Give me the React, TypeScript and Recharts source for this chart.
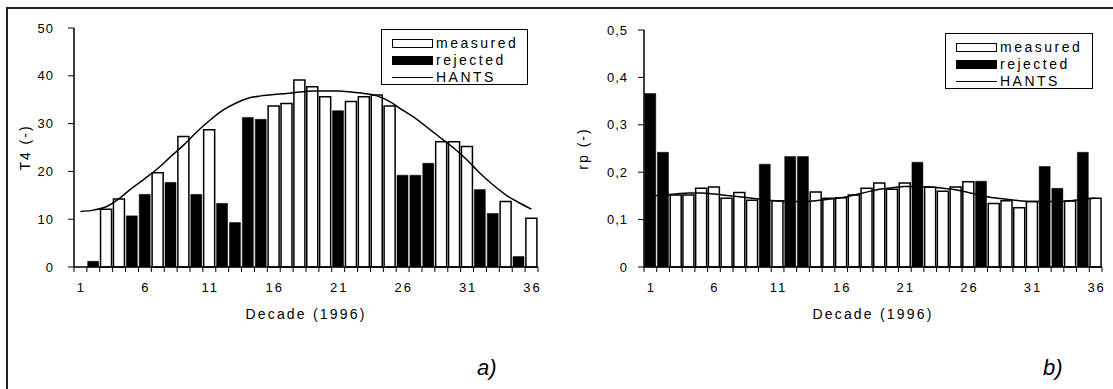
import React from 'react';
import { ComposedChart, Bar, Line, XAxis, YAxis, Legend, Label } from 'recharts';

const decades = Array.from({ length: 36 }, (_, i) => String(i + 1));

// panel a) T4
const t4Measured = [null, null, 12.1, 14.2, null, null, 19.7, null, 27.3, null, 28.7, null, null, null, null, 33.7, 34.2, 39.1, 37.7, 35.6, null, 34.6, 35.6, 36.0, 33.7, null, null, null, 26.2, 26.2, 25.2, null, null, 13.7, null, 10.2];
const t4Rejected = [null, 1.2, null, null, 10.7, 15.2, null, 17.7, null, 15.2, null, 13.3, 9.3, 31.3, 30.9, null, null, null, null, null, 32.7, null, null, null, null, 19.2, 19.2, 21.7, null, null, null, 16.2, 11.2, null, 2.2, null];
const t4Hants = [11.6, 11.9, 12.6, 14.3, 16.5, 18.5, 20.6, 23.1, 25.5, 28.2, 30.6, 32.7, 34.2, 35.3, 35.8, 36.1, 36.3, 36.6, 36.8, 36.8, 36.8, 36.6, 36.3, 35.8, 34.6, 32.8, 31.1, 29.0, 26.9, 24.8, 22.4, 19.6, 17.2, 15.1, 13.5, 12.1];
const t4Ticks = [0, 10, 20, 30, 40, 50];

// panel b) rp
const rpMeasured = [null, null, 0.152, 0.152, 0.166, 0.169, 0.145, 0.157, 0.141, null, 0.140, null, null, 0.158, 0.145, 0.146, 0.152, 0.166, 0.177, 0.164, 0.177, null, 0.168, 0.160, 0.169, 0.180, null, 0.134, 0.140, 0.125, 0.138, null, null, 0.139, null, 0.145];
const rpRejected = [0.366, 0.242, null, null, null, null, null, null, null, 0.217, null, 0.233, 0.233, null, null, null, null, null, null, null, null, 0.221, null, null, null, null, 0.181, null, null, null, null, 0.212, 0.166, null, 0.242, null];
const rpHants = [0.150, 0.152, 0.154, 0.156, 0.156, 0.154, 0.151, 0.148, 0.145, 0.142, 0.139, 0.138, 0.138, 0.140, 0.143, 0.146, 0.152, 0.158, 0.164, 0.167, 0.170, 0.170, 0.169, 0.166, 0.163, 0.157, 0.151, 0.146, 0.143, 0.140, 0.138, 0.138, 0.138, 0.140, 0.143, 0.145];
const rpTicks = [0, 0.1, 0.2, 0.3, 0.4, 0.5];

const legendItems = ['measured', 'rejected', 'HANTS'];

const FONT = '"Liberation Sans", Arial, sans-serif';
const H = 389;

const t4Data = decades.map((d, i) => ({ decade: d, measured: t4Measured[i], rejected: t4Rejected[i], hants: t4Hants[i] }));
const rpData = decades.map((d, i) => ({ decade: d, measured: rpMeasured[i], rejected: rpRejected[i], hants: rpHants[i] }));

const makeXTick = (band: number) => (props: any) => {
  const { x, y, payload, index } = props;
  return (
    <g>
      <line x1={x - band / 2} y1={y} x2={x - band / 2} y2={y + 5} stroke="#000" strokeWidth={1} />
      {index === decades.length - 1 && (
        <line x1={x + band / 2} y1={y} x2={x + band / 2} y2={y + 5} stroke="#000" strokeWidth={1} />
      )}
      {index % 5 === 0 && (
        <text x={x + 1} y={y + 25} textAnchor="middle" fontFamily={FONT} fontSize={13} letterSpacing={2} fill="#000">
          {payload.value}
        </text>
      )}
    </g>
  );
};

const LegendBox = ({ width }: { width: number }) => (
  <div style={{ width, height: 56, boxSizing: 'border-box', border: '1px solid #000', background: '#fff', padding: '5px 0 0 10px', fontFamily: FONT, fontSize: 14, letterSpacing: 2.5, lineHeight: '17px', color: '#000' }}>
    {legendItems.map((name) => (
      <div key={name} style={{ display: 'flex', alignItems: 'center', height: 17 }}>
        {name === 'HANTS' ? (
          <span style={{ width: 41, height: 0, borderTop: '1.5px solid #000', marginRight: 3 }} />
        ) : (
          <span style={{ width: 41, height: 9, boxSizing: 'border-box', border: '1.5px solid #000', background: name === 'rejected' ? '#000' : '#fff', marginRight: 3 }} />
        )}
        <span>{name}</span>
      </div>
    ))}
  </div>
);

type PanelProps = {
  data: any[];
  left: number;
  width: number;
  yWidth: number;
  marginTop: number;
  marginRight: number;
  domain: [number, number];
  ticks: number[];
  tickFmt: (v: number) => string;
  yLabel: string;
  yLabelX: number;
  tickMargin: number;
  legendLeft: number;
  legendTop: number;
  legendWidth: number;
};

const Panel = (p: PanelProps) => {
  const plotW = p.width - p.yWidth - p.marginRight;
  const band = plotW / decades.length;
  return (
    <div style={{ position: 'absolute', left: p.left, top: 0 }}>
      <ComposedChart width={p.width} height={H} data={p.data} margin={{ top: p.marginTop, right: p.marginRight, bottom: 62, left: 0 }} barCategoryGap="6%">
        <XAxis dataKey="decade" interval={0} height={60} tickSize={0} tickMargin={0} tickLine={false} axisLine={{ stroke: '#000', strokeWidth: 1.5 }} tick={makeXTick(band)}>
          <Label
            content={(lp: any) => {
              const vb = lp.viewBox;
              return (
                <text x={vb.x + vb.width / 2} y={vb.y + 52} textAnchor="middle" fontFamily={FONT} fontSize={14} letterSpacing={2.2} fill="#000">
                  Decade (1996)
                </text>
              );
            }}
          />
        </XAxis>
        <XAxis xAxisId="top" dataKey="decade" orientation="top" height={0} tick={false} tickLine={false} axisLine={{ stroke: '#000', strokeWidth: 1.5 }} />
        <YAxis width={p.yWidth} domain={p.domain} ticks={p.ticks} tickFormatter={p.tickFmt} tickSize={6} tickMargin={p.tickMargin} interval={0} axisLine={{ stroke: '#000', strokeWidth: 1.5 }} tickLine={{ stroke: '#000' }} tick={{ fontFamily: FONT, fontSize: 13, letterSpacing: 1, fill: '#000' }}>
          <Label
            content={(lp: any) => {
              const vb = lp.viewBox;
              const cx = vb.x + p.yLabelX;
              const cy = vb.y + vb.height / 2;
              return (
                <text x={cx} y={cy} transform={`rotate(-90 ${cx} ${cy})`} textAnchor="middle" dominantBaseline="central" fontFamily={FONT} fontSize={14} letterSpacing={2} fill="#000">
                  {p.yLabel}
                </text>
              );
            }}
          />
        </YAxis>
        <YAxis yAxisId="right" orientation="right" width={0} domain={p.domain} tick={false} tickLine={false} axisLine={{ stroke: '#000', strokeWidth: 1.5 }} />
        <Legend
          layout="vertical"
          align="center"
          verticalAlign="middle"
          wrapperStyle={{ left: p.legendLeft, top: p.legendTop, width: p.legendWidth, height: 56 }}
          content={() => <LegendBox width={p.legendWidth} />}
        />
        <Bar dataKey="measured" name="measured" stackId="s" fill="#fff" stroke="#000" strokeWidth={1.5} isAnimationActive={false} />
        <Bar dataKey="rejected" name="rejected" stackId="s" fill="#000" stroke="#000" strokeWidth={0.5} isAnimationActive={false} />
        <Line dataKey="hants" name="HANTS" type="monotone" stroke="#000" strokeWidth={1.5} dot={false} activeDot={false} isAnimationActive={false} />
      </ComposedChart>
    </div>
  );
};

const App = () => (
  <div style={{ position: 'absolute', left: 0, top: 0, width: 1113, height: H, background: '#fff', overflow: 'hidden' }}>
    <div style={{ position: 'absolute', left: 6, top: 7, width: 1200, height: 500, borderLeft: '2px solid #222', borderTop: '2px solid #222' }} />
    <Panel
      data={t4Data}
      left={0}
      width={556}
      yWidth={74}
      marginTop={28}
      marginRight={18}
      domain={[0, 50]}
      ticks={t4Ticks}
      tickFmt={(v) => String(v)}
      yLabel="T4 (-)"
      yLabelX={25}
      tickMargin={14}
      legendLeft={381}
      legendTop={29}
      legendWidth={147}
    />
    <Panel
      data={rpData}
      left={556}
      width={557}
      yWidth={88}
      marginTop={30}
      marginRight={11}
      domain={[0, 0.5]}
      ticks={rpTicks}
      tickFmt={(v) => (v === 0 ? '0' : v.toFixed(1).replace('.', ','))}
      yLabel="rp (-)"
      yLabelX={27}
      tickMargin={10}
      legendLeft={389}
      legendTop={33}
      legendWidth={148}
    />
    <div style={{ position: 'absolute', left: 477, top: 355, fontFamily: FONT, fontStyle: 'italic', fontSize: 22, color: '#000' }}>a)</div>
    <div style={{ position: 'absolute', left: 1043, top: 355, fontFamily: FONT, fontStyle: 'italic', fontSize: 22, color: '#000' }}>b)</div>
  </div>
);

export default App;
